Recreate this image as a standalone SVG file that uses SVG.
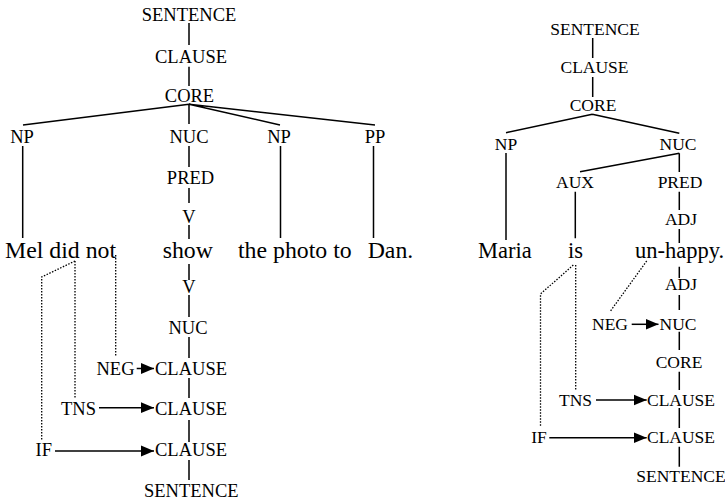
<svg xmlns="http://www.w3.org/2000/svg" width="725" height="502" viewBox="0 0 725 502" font-family="'Liberation Serif', 'DejaVu Serif', serif">
  <style>
    text { font-family: "Liberation Serif", "DejaVu Serif", serif; fill: #000; }
    .lab { font-size: 18.5px; text-anchor: middle; }
    .rlab { font-size: 17.5px; text-anchor: middle; }
    .word { font-size: 23.8px; }
    .rword { font-size: 22.5px; }
    .ln { stroke: #000; stroke-width: 1.5; fill: none; }
    .dot { stroke: #000; stroke-width: 1.3; stroke-dasharray: 1.5 1.5; fill: none; }
    .arr { stroke: #000; stroke-width: 1.5; fill: none; marker-end: url(#head); }
  </style>
  <defs>
    <marker id="head" markerUnits="userSpaceOnUse" markerWidth="14" markerHeight="12" refX="13" refY="6" orient="auto">
      <path d="M0,0.6 L13,6 L0,11.4 Z" fill="#000"/>
    </marker>
  </defs>
  <rect width="725" height="502" fill="#fff"/>

  <!-- Left tree: "Mel did not show the photo to Dan." -->
  <g id="l-sentence"><text class="lab" x="189" y="21">SENTENCE</text></g>
  <g id="l-clause"><text class="lab" x="191" y="63">CLAUSE</text></g>
  <g id="l-core"><text class="lab" x="189.5" y="102">CORE</text></g>
  <g id="l-np1"><text class="lab" x="22" y="143">NP</text></g>
  <g id="l-nuc"><text class="lab" x="189" y="143">NUC</text></g>
  <g id="l-np2"><text class="lab" x="279" y="143">NP</text></g>
  <g id="l-pp"><text class="lab" x="375" y="143">PP</text></g>
  <g id="l-pred"><text class="lab" x="190.5" y="184">PRED</text></g>
  <g id="l-v1"><text class="lab" x="189" y="223">V</text></g>
  <g id="l-words">
    <text class="word" x="5" y="258">Mel did not</text>
    <text class="word" x="162.7" y="258">show</text>
    <text class="word" x="238" y="258">the photo to</text>
    <text class="word" x="367.7" y="258">Dan.</text>
  </g>
  <g id="l-v2"><text class="lab" x="189" y="293">V</text></g>
  <g id="l-nuc2"><text class="lab" x="188" y="334">NUC</text></g>
  <g id="l-neg"><text class="lab" x="115.5" y="375">NEG</text></g>
  <g id="l-clause1"><text class="lab" x="191" y="375">CLAUSE</text></g>
  <g id="l-tns"><text class="lab" x="78.5" y="415">TNS</text></g>
  <g id="l-clause2"><text class="lab" x="191" y="415">CLAUSE</text></g>
  <g id="l-if"><text class="lab" x="43.7" y="456">IF</text></g>
  <g id="l-clause3"><text class="lab" x="191" y="456">CLAUSE</text></g>
  <g id="l-sentence2"><text class="lab" x="191.3" y="497">SENTENCE</text></g>

  <!-- Right tree: "Maria is un-happy." -->
  <g id="r-sentence"><text class="rlab" x="595" y="35">SENTENCE</text></g>
  <g id="r-clause"><text class="rlab" x="594.5" y="73">CLAUSE</text></g>
  <g id="r-core"><text class="rlab" x="593" y="111">CORE</text></g>
  <g id="r-np"><text class="rlab" x="506" y="150">NP</text></g>
  <g id="r-nuc"><text class="rlab" x="678" y="150">NUC</text></g>
  <g id="r-aux"><text class="rlab" x="575" y="188">AUX</text></g>
  <g id="r-pred"><text class="rlab" x="680" y="188">PRED</text></g>
  <g id="r-adj1"><text class="rlab" x="681" y="225">ADJ</text></g>
  <g id="r-words">
    <text class="rword" x="478" y="258">Maria</text>
    <text class="rword" x="568" y="258">is</text>
    <text class="rword" x="635" y="258">un-happy.</text>
  </g>
  <g id="r-adj2"><text class="rlab" x="681" y="290">ADJ</text></g>
  <g id="r-neg"><text class="rlab" x="610" y="329.5">NEG</text></g>
  <g id="r-nuc2"><text class="rlab" x="678" y="329.5">NUC</text></g>
  <g id="r-core2"><text class="rlab" x="679" y="368">CORE</text></g>
  <g id="r-tns"><text class="rlab" x="575.5" y="406">TNS</text></g>
  <g id="r-clause2"><text class="rlab" x="681" y="406">CLAUSE</text></g>
  <g id="r-if"><text class="rlab" x="539" y="443">IF</text></g>
  <g id="r-clause3"><text class="rlab" x="681" y="443">CLAUSE</text></g>
  <g id="r-sentence2"><text class="rlab" x="681" y="482">SENTENCE</text></g>

  <g id="connectors">
    <!-- left tree, layered structure -->
    <path class="ln" d="M189,23 V45 M189,66.7 V86"/>
    <path class="ln" d="M189,104.3 L23,125 M189,104.3 V124 M189,104.3 L280,125 M189,104.3 L375,125"/>
    <path class="ln" d="M22.7,146 V238 M280.5,146 V238 M373.5,146 V238"/>
    <path class="ln" d="M189,146 V167 M189,188 V203 M189,225 V239"/>
    <!-- left tree, operator projection -->
    <path class="ln" d="M189,264 V280 M189,295 V317 M189,337 V358 M189,378 V398 M189,420 V442 M189,460 V480"/>
    <path class="arr" d="M136.7,368.5 H154"/>
    <path class="arr" d="M99,407.7 H154"/>
    <path class="arr" d="M55,451 H154"/>
    <path class="dot" d="M75,261 L41.7,277 V440"/>
    <path class="dot" d="M75,261 V398"/>
    <path class="dot" d="M115.7,255 V357"/>

    <!-- right tree, layered structure -->
    <path class="ln" d="M592.7,38 V58 M592.7,77 V97"/>
    <path class="ln" d="M592.3,114.3 L506,132.7 M592.3,114.3 L679.3,133.3"/>
    <path class="ln" d="M506,153 V240"/>
    <path class="ln" d="M679.3,153.3 L580,171.7 M679.3,153.3 V172"/>
    <path class="ln" d="M575.3,191.7 V238.3 M679.3,191.7 V210 M679.3,229 V243"/>
    <!-- right tree, operator projection -->
    <path class="ln" d="M679.3,266.7 V278 M679.3,295 V310 M679.3,331.7 V350 M679.3,371.7 V390 M679.3,408 V428 M679.3,446.7 V466.7"/>
    <path class="arr" d="M631.7,324.3 H658.5"/>
    <path class="arr" d="M596,400 H646.7"/>
    <path class="arr" d="M549.3,437.7 H646.7"/>
    <path class="dot" d="M573.3,265 L540.5,294 V427.3"/>
    <path class="dot" d="M575.7,265 V390"/>
    <path class="dot" d="M646.7,261 L610,311.7"/>
  </g>
</svg>
